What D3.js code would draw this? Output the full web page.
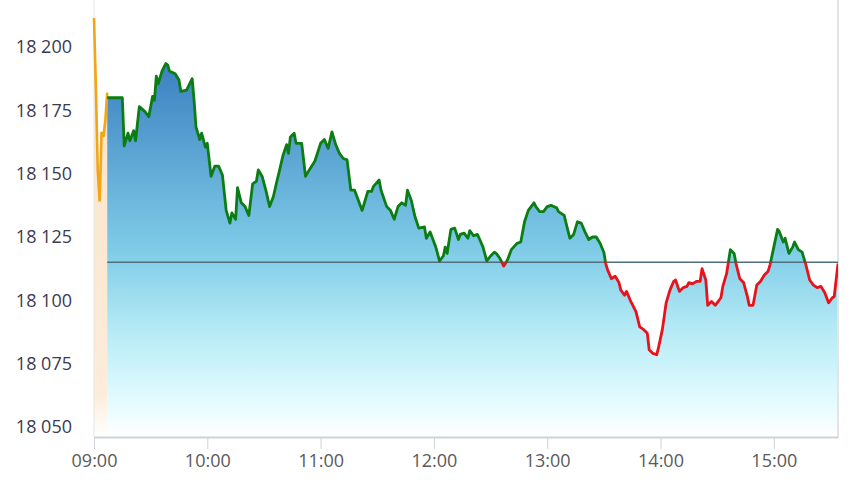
<!DOCTYPE html>
<html>
	<head>
		<meta charset="utf-8">
		<script src="https://cdnjs.cloudflare.com/ajax/libs/d3/7.8.5/d3.min.js"></script>
		<style>
			body{ margin:0; background:#fff; }
			svg{ display:block; }
			.tick text{ font-family:"Open Sans", sans-serif; font-size:18px; }
		</style>
	</head>
	<body>
		<svg width="850" height="486"></svg>
		<script>
			// session data, minutes counted from the 09:00 open
			var openTime = "09:00";
			var closeMinute = 394;
			var prevClose = 18115;

			var preMinutes = [0, 1, 2, 3, 4, 5, 6, 7];
			var preValues = [18211.5, 18184, 18151, 18139, 18166.5, 18164.5, 18171, 18182];

			var minutes = [7,15,16,18,19,21,22,24,27,29,31,32,33,34,36,38,39,40,43,45,46,49,52,53,54,56,57,59,60,62,64,66,68,70,72,73,75,76,78,80,82,84,86,87,89,91,93,95,97,98,
				100,102,103,104,106,107,110,112,114,117,120,122,124,126,128,130,132,134,136,138,142,145,147,148,151,152,155,157,159,161,163,165,166,168,170,172,175,176,178,181,183,185,186,187,189,191,193,194,196,198,199,
				201,203,204,206,208,210,212,213,215,217,219,221,224,226,228,230,233,234,236,238,240,242,245,246,249,250,252,254,256,258,260,262,264,266,268,270,271,272,274,276,278,279,281,282,284,286,287,289,291,293,294,296,298,299,
				301,303,305,307,308,310,312,314,315,317,319,321,322,324,325,327,329,332,333,335,337,339,340,342,344,346,347,349,351,353,355,357,358,360,362,363,365,366,368,370,371,373,375,377,379,381,383,385,387,389,391,392,394];

			var values = [18180,18180,18161,18166,18163,18167,18163,18176.5,18174.5,18172.5,18180.5,18179,18188.5,18185.5,18190.5,18193.5,18193,18190.5,18189.5,18187,18182.5,18183,18187.5,18179,18168.5,18163.5,18166,18160.5,18162,18149,18153,18153,18149.5,18135.5,18130.5,18134.5,18132,18144.5,18138.5,18137,18133.5,18146,18147,18151.5,18149,18143.5,18137,18141,18147.5,18150.5,
				18157,18161.5,18158,18164.5,18166,18162,18162,18149,18151.5,18155,18162,18163.5,18160,18166.5,18161.5,18158,18156,18155.5,18143.5,18143.5,18135.5,18143,18143,18145,18147.5,18143.5,18137,18135.5,18132,18137,18138.5,18137.5,18143.5,18139.5,18133,18128.5,18129,18124.5,18127,18121,18115.5,18117.5,18121,18118.5,18128,18128.5,18124,18126,18126.5,18124.5,18127.5,
				18125.5,18126,18124.5,18121,18115.5,18117.5,18119,18118.5,18116.5,18113.5,18116,18120,18122.5,18123,18131,18135.5,18138.5,18137,18135,18135,18137,18137.5,18136.5,18135,18133.5,18130.5,18124.5,18126,18131,18130.5,18127,18124,18125,18125,18122.5,18119,18114.5,18112,18108.5,18109.5,18107,18104,18102,18103.5,18100,18097,18095.5,18089.5,18088.5,18087,18080.5,18079,18078.5,18081.5,
				18088.5,18099,18104,18107.5,18108,18103.5,18105,18105.5,18107,18106.5,18107.5,18107.5,18112.5,18108,18098,18099.5,18098,18101,18105.5,18110.5,18120,18118.5,18114.5,18108.5,18107,18101.5,18098,18098,18106,18107.5,18110,18111.5,18114,18121,18128,18127,18123,18124.5,18118.5,18121,18123,18120,18119,18114,18108,18106,18105,18105.5,18103,18099,18101,18101.5,18114.5];

			var yTicks = [18050, 18075, 18100, 18125, 18150, 18175, 18200];
			var xTickLabels = ["09:00", "10:00", "11:00", "12:00", "13:00", "14:00", "15:00"];

			var svg = d3.select("svg");
			var margin = {left: 94, right: 12, top: 0, bottom: 49};
			var width = 850 - margin.left - margin.right;
			var height = 486 - margin.top - margin.bottom;

			var parseTime = d3.timeParse("%H:%M");
			var start = parseTime(openTime);
			function toDate(m){ return d3.timeMinute.offset(start, m); }

			var x = d3.scaleTime().domain([start, toDate(closeMinute)]).range([0, width]);
			var y = d3.scaleLinear().domain([18046, 18218.6]).range([height, 0]);

			var session = minutes.map(function(m, i){ return {t: toDate(m), v: values[i]}; });
			var pre = preMinutes.map(function(m, i){ return {t: toDate(m), v: preValues[i]}; });

			var defs = svg.append("defs");
			var blue = defs.append("linearGradient").attr("id", "blueFill")
				.attr("gradientUnits", "userSpaceOnUse")
				.attr("x1", 0).attr("x2", 0).attr("y1", 60).attr("y2", height);
			[[0, "#3a7fc0"], [0.5, "#7ecbe7"], [0.72, "#b6ebf6"], [0.9, "#e2fbff"], [1, "#ffffff"]].forEach(function(s){
				blue.append("stop").attr("offset", s[0]).attr("stop-color", s[1]);
			});
			var peach = defs.append("linearGradient").attr("id", "peachFill")
				.attr("gradientUnits", "userSpaceOnUse")
				.attr("x1", 0).attr("x2", 0).attr("y1", 0).attr("y2", height);
			[[0, "#fbe2c4"], [0.9, "#fcecda"], [1, "#ffffff"]].forEach(function(s){
				peach.append("stop").attr("offset", s[0]).attr("stop-color", s[1]);
			});
			defs.append("clipPath").attr("id", "above").append("rect")
				.attr("x", 0).attr("y", 0).attr("width", width).attr("height", y(prevClose));
			defs.append("clipPath").attr("id", "below").append("rect")
				.attr("x", 0).attr("y", y(prevClose)).attr("width", width).attr("height", height - y(prevClose));

			var g = svg.append("g").attr("transform", "translate(" + margin.left + "," + margin.top + ")");

			var area = d3.area().x(function(d){ return x(d.t); }).y0(height).y1(function(d){ return y(d.v); });
			var line = d3.line().x(function(d){ return x(d.t); }).y(function(d){ return y(d.v); });

			g.append("path").datum(pre).attr("d", area).attr("fill", "url(#peachFill)");
			g.append("path").datum(session).attr("d", area).attr("fill", "url(#blueFill)");

			// frame lines
			g.append("line").attr("x1", 0).attr("x2", 0).attr("y1", 0).attr("y2", height)
				.attr("stroke", "#e6e6e6").attr("stroke-width", 1);
			g.append("line").attr("x1", width).attr("x2", width).attr("y1", 0).attr("y2", height)
				.attr("stroke", "#e4e4e4").attr("stroke-width", 2);

			g.append("line")
				.attr("x1", x(session[0].t)).attr("x2", width)
				.attr("y1", y(prevClose)).attr("y2", y(prevClose))
				.attr("stroke", "#4f6f7c").attr("stroke-width", 1.5);

			g.append("path").datum(pre).attr("d", line)
				.attr("fill", "none").attr("stroke", "#f2a516").attr("stroke-width", 2.6);
			g.append("path").datum(session).attr("d", line).attr("clip-path", "url(#above)")
				.attr("fill", "none").attr("stroke", "#0b7d12").attr("stroke-width", 2.8).attr("stroke-linejoin", "round");
			g.append("path").datum(session).attr("d", line).attr("clip-path", "url(#below)")
				.attr("fill", "none").attr("stroke", "#e8121c").attr("stroke-width", 2.8).attr("stroke-linejoin", "round");

			// axes
			var fmt = d3.formatLocale({decimal: ",", thousands: " ", grouping: [3], currency: ["", ""]}).format(",");
			var yAxis = g.append("g").call(d3.axisLeft(y).tickValues(yTicks).tickFormat(fmt).tickSize(0).tickPadding(22));
			yAxis.select(".domain").remove();
			yAxis.selectAll("text").attr("fill", "#3b3b4f");

			var xAxis = g.append("g").attr("transform", "translate(0," + height + ")")
				.call(d3.axisBottom(x)
					.tickValues(xTickLabels.map(parseTime))
					.tickFormat(d3.timeFormat("%H:%M"))
					.tickSizeInner(12).tickSizeOuter(0).tickPadding(5));
			xAxis.select(".domain").attr("stroke", "#ccd3da").attr("stroke-width", 2);
			xAxis.selectAll(".tick line").attr("stroke", "#ccd3da");
			xAxis.selectAll("text").attr("fill", "#5a5a5a");
		</script>
	</body>
</html>
